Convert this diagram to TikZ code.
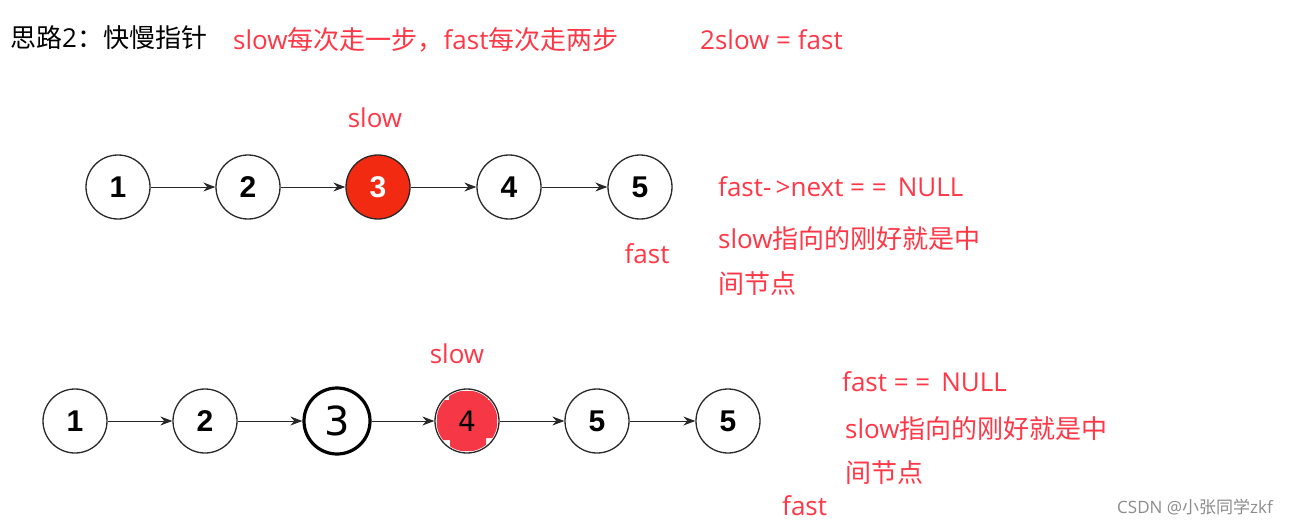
\documentclass[tikz,border=0pt]{standalone}
\usepackage{fontspec}
\setmainfont{Noto Sans CJK SC}
\newfontfamily\lat{Open Sans}
\newfontfamily\numfont{Liberation Sans}
\newfontfamily\handfont{DejaVu Sans}
\usetikzlibrary{arrows.meta}
\definecolor{txtred}{RGB}{255,55,70}
\definecolor{nodered}{RGB}{242,42,18}
\definecolor{scrib}{RGB}{245,55,70}
\definecolor{lnk}{RGB}{40,40,40}
\tikzset{
  lnode/.style={circle,draw=lnk,line width=1.3pt,minimum size=64pt,inner sep=0pt,fill=white,font=\numfont\bfseries\fontsize{30}{30}\selectfont},
  link/.style={draw=lnk,line width=1pt,-{Stealth[length=12pt,width=9pt]}},
  redtxt/.style={text=txtred,font=\fontsize{26}{28}\selectfont,inner sep=0pt},
  blacktxt/.style={text=black,font=\fontsize{26}{28}\selectfont,inner sep=0pt},
}
\begin{document}
\begin{tikzpicture}[x=1pt,y=-1pt]
\useasboundingbox (0,0) rectangle (1309,527);
\fill[white] (0,0) rectangle (1309,527);
% header
\node[blacktxt,anchor=west] (title) at (10,38) {思路{\lat 2}：快慢指针};
\node[redtxt,anchor=west] (step) at (233,40) {{\lat slow}每次走一步，{\lat fast}每次走两步};
\node[redtxt,anchor=west] (rel) at (700,40) {\lat 2slow = fast};
% row 1
\node[lnode] (a1) at (118,187) {1};
\node[lnode] (a2) at (248,187) {2};
\node[lnode,fill=nodered,text=white] (a3) at (378,187) {3};
\node[lnode] (a4) at (509,187) {4};
\node[lnode] (a5) at (640,187) {5};
\draw[link] (a1) -- (a2);
\draw[link] (a2) -- (a3);
\draw[link] (a3) -- (a4);
\draw[link] (a4) -- (a5);
\node[redtxt] (slow1) at (375,118) {\lat slow};
\node[redtxt] (fast1) at (647,254) {\lat fast};
\node[redtxt,anchor=west] (cond1) at (718,187) {\lat fast-\,>next = = \,NULL};
\node[redtxt,anchor=west] (res1a) at (718,239) {{\lat slow}指向的刚好就是中};
\node[redtxt,anchor=west] (res1b) at (718,284) {间节点};
% row 2
\node[lnode] (b1) at (75,421) {1};
\node[lnode] (b2) at (205,421) {2};
\node[lnode,draw=black,line width=3.2pt,minimum size=66pt,font=\handfont\fontsize{40}{40}\selectfont] (b3) at (337,421) {3};
\node[lnode] (b4) at (467,421) {};
\begin{scope}
\clip (b4.center) circle (30.5pt);
\fill[scrib] (438,400) -- (449,400) -- (449,391) -- (488,391) -- (488,400) -- (497,400) -- (497,438) -- (486,438) -- (486,451) -- (450,451) -- (450,440) -- (436,440) -- cycle;
\end{scope}
\node[font=\handfont\fontsize{28}{28}\selectfont,inner sep=0pt] (b4t) at (467,421) {4};
\node[lnode] (b5) at (597,421) {5};
\node[lnode] (b6) at (728,421) {5};
\draw[link] (b1) -- (b2);
\draw[link] (b2) -- (b3);
\draw[link] (b3) -- (b4);
\draw[link] (b4) -- (b5);
\draw[link] (b5) -- (b6);
\node[redtxt] (slow2) at (457,354) {\lat slow};
\node[redtxt,anchor=west] (cond2) at (842,382) {\lat fast = = \,NULL};
\node[redtxt,anchor=west] (res2a) at (845,429) {{\lat slow}指向的刚好就是中};
\node[redtxt,anchor=west] (res2b) at (845,473) {间节点};
\node[redtxt,anchor=west] (fast2) at (782,506) {\lat fast};
% watermark
\node[anchor=west,text=gray!90,font=\fontsize{17}{20}\selectfont,inner sep=0pt] (wm) at (1117,507) {{\lat CSDN @}小张同学{\lat zkf}};
\end{tikzpicture}
\end{document}
